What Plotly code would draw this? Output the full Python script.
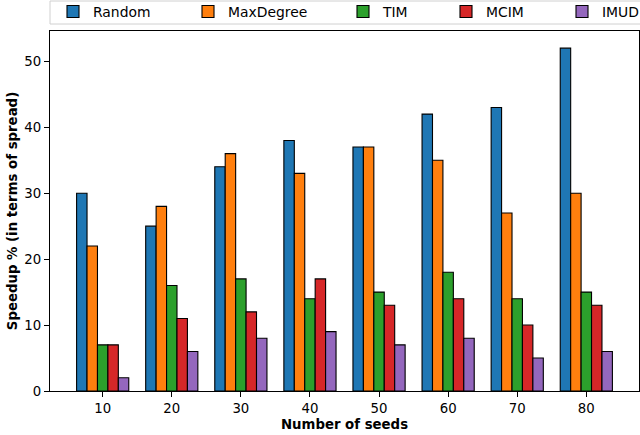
import plotly.graph_objects as go

seeds = ["10", "20", "30", "40", "50", "60", "70", "80"]
series_names = ["Random", "MaxDegree", "TIM", "MCIM", "IMUD"]
random_vals = [30, 25, 34, 38, 37, 42, 43, 52]
maxdegree_vals = [22, 28, 36, 33, 37, 35, 27, 30]
tim_vals = [7, 16, 17, 14, 15, 18, 14, 15]
mcim_vals = [7, 11, 12, 17, 13, 14, 10, 13]
imud_vals = [2, 6, 8, 9, 7, 8, 5, 6]
colors = ["#1f77b4", "#ff7f0e", "#2ca02c", "#d62728", "#9467bd"]

all_vals = [random_vals, maxdegree_vals, tim_vals, mcim_vals, imud_vals]
xpos = list(range(len(seeds)))
legend_ids = ["legend", "legend2", "legend3", "legend4", "legend5"]
legend_text_x = [95, 230, 385, 488, 604]

fig = go.Figure()
for name, vals, c, lid in zip(series_names, all_vals, colors, legend_ids):
    fig.add_trace(go.Bar(
        x=xpos, y=vals, name=name, legend=lid,
        marker=dict(color=c, line=dict(color="black", width=1.1)),
    ))

font = "DejaVu Sans, Arial, sans-serif"
W, H = 640, 435
PL, PT, PW, PH = 50, 31, 589, 360
legend_layouts = {}
for lid, tx in zip(legend_ids, legend_text_x):
    legend_layouts[lid] = dict(
        orientation="h", xref="paper", yref="paper",
        x=(tx - 42 - PL) / PW, y=(PT + PH + 4) / PH, xanchor="left", yanchor="top",
        borderwidth=0, bgcolor="rgba(0,0,0,0)",
        font=dict(size=13.9), itemclick=False, itemdoubleclick=False,
    )

fig.update_layout(
    width=W, height=H,
    margin=dict(l=PL, r=W - PL - PW, t=PT, b=H - PT - PH, autoexpand=False),
    paper_bgcolor="white", plot_bgcolor="white",
    barmode="group", bargap=0.245, bargroupgap=0,
    font=dict(family=font, size=13.3, color="black"),
    showlegend=True,
    **legend_layouts,
    shapes=[dict(
        type="rect", xref="paper", yref="paper",
        x0=0, x1=(660 - PL) / PW,
        y0=(PT + PH - 24) / PH, y1=(PT + PH - 1) / PH,
        line=dict(color="#d0d0d0", width=1), fillcolor="rgba(0,0,0,0)",
        layer="below",
    )],
    xaxis=dict(
        range=[-0.7625, 7.7625], tickmode="array", tickvals=xpos, ticktext=seeds,
        showline=True, linecolor="black", linewidth=1.1, mirror=True,
        ticks="outside", ticklen=5, tickwidth=1.1, tickcolor="black",
        showgrid=False, zeroline=False,
        title=dict(text="<b>Number of seeds</b>", standoff=4, font=dict(size=13.3)),
    ),
    yaxis=dict(
        range=[0, 54.6], tickmode="array", tickvals=[0, 10, 20, 30, 40, 50],
        showline=True, linecolor="black", linewidth=1.1, mirror=True,
        ticks="outside", ticklen=5, tickwidth=1.1, tickcolor="black",
        showgrid=False, zeroline=False,
        title=dict(text="<b>Speedup % (in terms of spread)</b>", standoff=3, font=dict(size=13.3)),
    ),
)

fig.write_html("out.html")
